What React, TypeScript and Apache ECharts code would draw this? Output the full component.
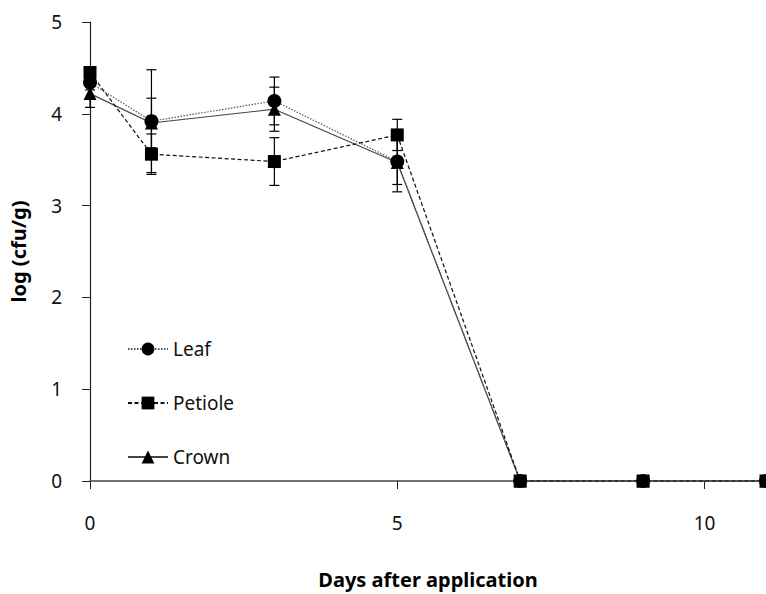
import React, { useEffect, useRef } from "react";
import * as echarts from "echarts";

// Sampling days and log counts per plant part
const days = [0, 1, 3, 5, 7, 9, 11];
const leaf = [4.34, 3.92, 4.14, 3.48, 0, 0, 0];
const leafErr = [0.08, 0.56, 0.26, 0.33, 0, 0, 0];
const petiole = [4.45, 3.56, 3.48, 3.77, 0, 0, 0];
const petioleErr = [0.06, 0.22, 0.26, 0.17, 0, 0, 0];
const crown = [4.22, 3.9, 4.05, 3.47, 0, 0, 0];
const crownErr = [0.15, 0.27, 0.24, 0.24, 0, 0, 0];

const FONT = "'Noto Sans', sans-serif";

const pairs = (vals: number[]) => days.map((d, i) => [d, vals[i]]);
const bars = (vals: number[], errs: number[]) =>
  days
    .map((d, i) => [d, vals[i] - errs[i], vals[i] + errs[i]])
    .filter((r) => r[2] - r[1] > 0);

const errorSeries = (vals: number[], errs: number[], z: number) => ({
  type: "custom",
  silent: true,
  z,
  data: bars(vals, errs),
  encode: { x: 0, y: [1, 2] },
  renderItem: (_params: any, api: any) => {
    const x = api.value(0);
    const lo = api.coord([x, api.value(1)]);
    const hi = api.coord([x, api.value(2)]);
    const cap = 5;
    const style = { stroke: "#000", lineWidth: 1.2 };
    return {
      type: "group",
      children: [
        { type: "line", shape: { x1: lo[0], y1: lo[1], x2: hi[0], y2: hi[1] }, style },
        { type: "line", shape: { x1: lo[0] - cap, y1: lo[1], x2: lo[0] + cap, y2: lo[1] }, style },
        { type: "line", shape: { x1: hi[0] - cap, y1: hi[1], x2: hi[0] + cap, y2: hi[1] }, style },
      ],
    };
  },
});

export default function App() {
  const ref = useRef<HTMLDivElement>(null);

  useEffect(() => {
    if (!ref.current) return;
    const chart = echarts.init(ref.current, null, { renderer: "svg" });
    chart.setOption({
      animation: false,
      backgroundColor: "#fff",
      textStyle: { fontFamily: FONT },
      grid: { left: 86, top: 22, right: 0, bottom: 108, containLabel: false },
      legend: {
        left: 122,
        top: 334,
        orient: "vertical",
        itemWidth: 40,
        itemHeight: 16,
        itemGap: 34,
        data: ["Leaf", "Petiole", "Crown"],
        textStyle: { fontSize: 19, color: "#111", fontFamily: FONT, lineHeight: 20 },
      },
      xAxis: {
        type: "value",
        min: 0,
        max: 11,
        interval: 5,
        name: "Days after application",
        nameLocation: "middle",
        nameGap: 88,
        nameTextStyle: { fontSize: 20, fontWeight: "bold", color: "#000", fontFamily: FONT },
        axisLine: { onZero: false, lineStyle: { color: "#707070", width: 2 } },
        axisTick: { inside: false, length: 8, lineStyle: { color: "#222", width: 1 } },
        axisLabel: { margin: 32, fontSize: 19, color: "#111", showMaxLabel: false },
        splitLine: { show: false },
      },
      yAxis: {
        type: "value",
        min: 0,
        max: 5,
        interval: 1,
        name: "log (cfu/g)",
        nameLocation: "middle",
        nameGap: 62,
        nameTextStyle: { fontSize: 20, fontWeight: "bold", color: "#000", fontFamily: FONT },
        axisLine: { show: true, lineStyle: { color: "#222", width: 1.2 } },
        axisTick: { show: true, inside: false, length: 8, lineStyle: { color: "#222", width: 1 } },
        axisLabel: { margin: 28, fontSize: 19, color: "#111" },
        splitLine: { show: false },
      },
      series: [
        errorSeries(crown, crownErr, 1),
        errorSeries(leaf, leafErr, 1),
        errorSeries(petiole, petioleErr, 1),
        {
          name: "Crown",
          type: "line",
          data: pairs(crown),
          symbol: "triangle",
          symbolSize: 13,
          clip: false,
          z: 2,
          lineStyle: { color: "#444", width: 1.2, type: "solid" },
          itemStyle: { color: "#000" },
        },
        {
          name: "Leaf",
          type: "line",
          data: pairs(leaf),
          symbol: "circle",
          symbolSize: 14,
          clip: false,
          z: 3,
          lineStyle: { color: "#555", width: 1.2, type: [1.5, 1.5] },
          itemStyle: { color: "#000" },
        },
        {
          name: "Petiole",
          type: "line",
          data: pairs(petiole),
          symbol: "rect",
          symbolSize: 13,
          clip: false,
          z: 4,
          lineStyle: { color: "#111", width: 1.2, type: [4, 2.5] },
          itemStyle: { color: "#000" },
        },
      ],
    });
    return () => chart.dispose();
  }, []);

  return (
    <div
      ref={ref}
      style={{ position: "fixed", left: 0, top: 0, width: 766, height: 594 }}
    />
  );
}
